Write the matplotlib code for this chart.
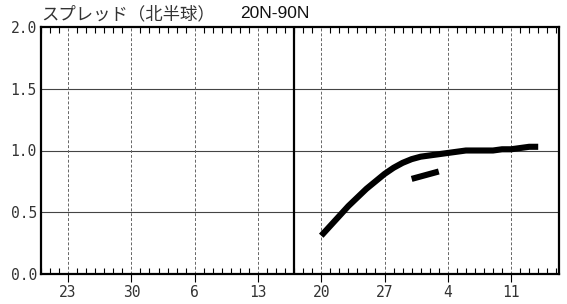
import matplotlib.pyplot as plt
from matplotlib.ticker import MultipleLocator

# day index: 0 = the 23rd (first labelled tick)
week_ticks = [0, 7, 14, 21, 28, 35, 42, 49]
week_labels = ["23", "30", "6", "13", "20", "27", "4", "11"]
y_ticks = [0.0, 0.5, 1.0, 1.5, 2.0]
y_labels = ["0.0", "0.5", "1.0", "1.5", "2.0"]

today = 25

days = [28, 29, 30, 31, 32, 33, 34, 35, 36, 37, 38, 39, 40,
        41, 42, 43, 44, 45, 46, 47, 48, 49, 50, 51, 52]
spread = [0.31, 0.39, 0.47, 0.55, 0.62, 0.69, 0.75, 0.81, 0.86, 0.90, 0.93, 0.95, 0.96,
          0.97, 0.98, 0.99, 1.00, 1.00, 1.00, 1.00, 1.01, 1.01, 1.02, 1.03, 1.03]

obs_days = [38, 41]
obs_spread = [0.77, 0.83]

fig = plt.figure(figsize=(5.67, 3.04), dpi=100)
ax = fig.add_axes([41 / 567, 30 / 304, 518 / 567, 247 / 304])

ax.set_xlim(-3, 54.3)
ax.set_ylim(0, 2.0)

for y in [0.5, 1.0, 1.5]:
    ax.axhline(y, color="#444444", lw=0.8, zorder=1)
for x in week_ticks:
    ax.axvline(x, color="#666666", lw=0.7, ls=(0, (3, 2)), zorder=1)

ax.axvline(today, color="black", lw=1.6, zorder=2)

ax.plot(days, spread, color="black", lw=4.4, solid_capstyle="butt",
        solid_joinstyle="round", zorder=3)
ax.plot(obs_days, obs_spread, color="black", lw=4.4, solid_capstyle="butt", zorder=3)

ax.set_xticks(week_ticks)
ax.set_xticklabels(week_labels, fontfamily="DejaVu Sans Mono", fontsize=10.5, color="#333333")
ax.set_yticks(y_ticks)
ax.set_yticklabels(y_labels, fontfamily="DejaVu Sans Mono", fontsize=10.5, color="#333333")
ax.xaxis.set_minor_locator(MultipleLocator(1))

ax.tick_params(axis="x", which="major", direction="out", length=6, width=0.8, pad=2)
ax.tick_params(axis="x", which="minor", direction="in", length=4, width=0.8,
               top=True, bottom=True)
ax.tick_params(axis="y", which="major", length=0, pad=3)

for s in ax.spines.values():
    s.set_linewidth(1.6)

fig.text(41 / 567, 1 - 14 / 304, "スプレッド（北半球）", fontfamily="Noto Sans CJK JP",
         fontsize=12.5, color="#333333", va="center", ha="left")
fig.text(240 / 567, 1 - 14 / 304, "20N-90N", fontfamily="Liberation Sans",
         fontsize=12.5, color="#111111", va="center", ha="left")

fig.savefig("out.png", dpi=100)
